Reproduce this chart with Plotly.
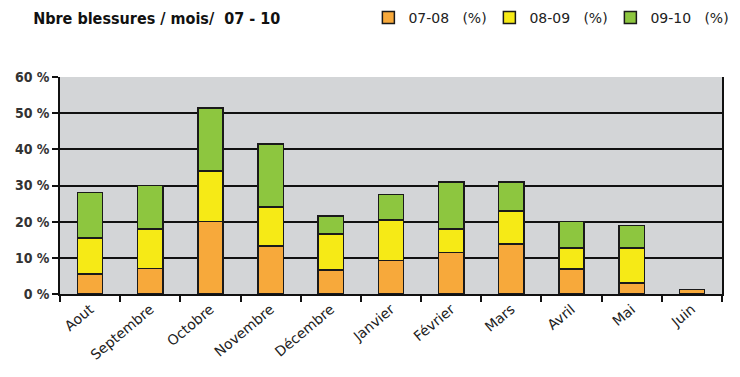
import plotly.graph_objects as go

months = ["Aout", "Septembre", "Octobre", "Novembre", "Décembre", "Janvier",
          "Février", "Mars", "Avril", "Mai", "Juin"]
s0708 = [5.5, 7.0, 20.0, 13.3, 6.7, 9.3, 11.5, 13.8, 6.9, 3.0, 1.3]
s0809 = [10.0, 11.0, 14.0, 10.7, 9.9, 11.2, 6.5, 9.2, 5.8, 9.7, 0.0]
s0910 = [12.5, 12.0, 17.4, 17.5, 4.9, 7.0, 13.0, 8.0, 7.3, 6.3, 0.0]
series_names = ["07-08\u00a0\u00a0\u00a0(%)", "08-09\u00a0\u00a0\u00a0(%)", "09-10\u00a0\u00a0\u00a0(%)"]
colors = ["#F7A93B", "#F6EA16", "#8DC63F"]
yticks = [0, 10, 20, 30, 40, 50, 60]
ytext = [f"<b>{v} %</b>" for v in yticks]

FONT = "DejaVu Sans Condensed"
FONT2 = "DejaVu Sans"
fig = go.Figure()
for name, vals, c in zip(series_names, [s0708, s0809, s0910], colors):
    fig.add_trace(go.Bar(x=months, y=vals, name=name,
                         marker=dict(color=c, line=dict(color="#1a1a1a", width=1.5))))

fig.update_layout(
    barmode="stack",
    bargap=0.58,
    width=740, height=377,
    margin=dict(l=52, r=26, t=69, b=91, autoexpand=False),
    paper_bgcolor="white",
    plot_bgcolor="#D3D5D7",
    font=dict(family=FONT, color="#222", size=14),
    title=dict(text="<b>Nbre blessures / mois/\u00a0\u00a007 - 10</b>", x=0.034, xanchor="left",
               xref="container", yref="container",
               y=0.9735, yanchor="middle", font=dict(family=FONT, size=16, color="#111")),
    legend=dict(orientation="h", xref="container", yref="paper",
                x=0.487, xanchor="left", y=1.272, yanchor="middle",
                traceorder="normal", font=dict(family=FONT2, size=14, color="#222"),
                entrywidth=76, entrywidthmode="pixels", itemclick=False,
                bgcolor="rgba(0,0,0,0)"),
    showlegend=True,
)
fig.update_xaxes(type="category", tickangle=-40, showline=True, linecolor="#111", linewidth=1.5,
                 ticks="outside", tickson="boundaries", ticklen=6, tickcolor="#111", tickwidth=1.5,
                 showgrid=False, mirror=False, automargin=False,
                 tickfont=dict(family=FONT2, size=14, color="#222"))
fig.update_yaxes(range=[0, 60], tickvals=yticks, ticktext=ytext, showline=True, linecolor="#111",
                 linewidth=1.5, mirror=True, ticks="outside", ticklen=6, tickcolor="#111", tickwidth=1.5,
                 showgrid=True, gridcolor="#111", gridwidth=1.5, zeroline=False, automargin=False,
                 tickfont=dict(family=FONT, size=14, color="#333"))
fig.write_html("out.html")
